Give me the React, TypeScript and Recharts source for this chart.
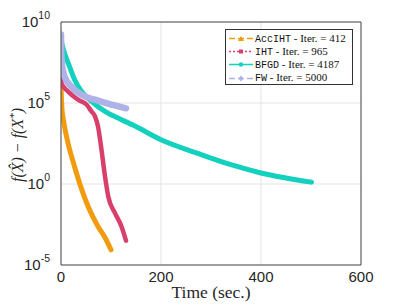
import React from "react";
import { LineChart, Line, XAxis, YAxis, CartesianGrid, ReferenceLine } from "recharts";

// time (sec.) and f(X^) - f(X*)
const accTime = [0, 0.5, 2, 4, 7, 14, 27, 41, 54, 74, 88, 100];
const accGap = [2.5e7, 4e5, 4e4, 1.3e4, 3.6e3, 340, 12, 0.5, 0.042, 2.4e-3, 5e-4, 8.7e-5];

const ihtTime = [0, 0.6, 14, 34, 51, 61, 68, 74, 81, 88, 94.5, 108, 121, 130];
const ihtGap = [1.8e7, 1.7e6, 5.2e5, 1.6e5, 8e4, 3e4, 1.5e4, 3.6e3, 130, 3, 0.17, 0.016, 2.4e-3, 3.2e-4];

const bfgdTime = [0, 7, 17, 27, 41, 61, 88, 121, 145, 200, 272, 340, 400, 501];
const bfgdGap = [7e8, 1.2e8, 1.8e7, 2.8e6, 5.2e5, 1.26e5, 3e4, 9.3e3, 4.2e3, 540, 81, 15.5, 4.8, 1.3];

const fwTime = [0, 0.5, 1.5, 7, 21, 41, 68, 94, 130];
const fwGap = [1.7e9, 1.3e8, 3e7, 4.4e6, 1e6, 3.2e5, 1.6e5, 9e4, 4.7e4];

const xTicks = [0, 200, 400, 600];
const yTicks = [1e-5, 1, 1e5, 1e10];

const toRows = (ts: number[], vs: number[]) => ts.map((t, i) => ({ t, y: vs[i] }));

const series = [
  { key: "acc", name: "AccIHT", iter: 412, color: "#F29B0F", width: 5, dash: "6 3", marker: "tri", rows: toRows(accTime, accGap) },
  { key: "iht", name: "IHT", iter: 965, color: "#D83F6B", width: 4.5, dash: "2 2", marker: "sq", rows: toRows(ihtTime, ihtGap) },
  { key: "bfgd", name: "BFGD", iter: 4187, color: "#14D0BE", width: 5, dash: "", marker: "circ", rows: toRows(bfgdTime, bfgdGap) },
  { key: "fw", name: "FW", iter: 5000, color: "#AEB2E6", width: 6.5, dash: "6 3", marker: "dia", rows: toRows(fwTime, fwGap) },
];

const tickFont = "'Liberation Sans', Arial, sans-serif";
const serif = "'Liberation Serif', 'DejaVu Serif', serif";

function XTick({ x, y, payload }: any) {
  return (
    <text x={x} y={y + 9} textAnchor="middle" fontSize={15} fontFamily={tickFont} fill="#262626">
      {payload.value}
    </text>
  );
}

function YTick({ x, y, payload }: any) {
  const exp = Math.round(Math.log10(payload.value));
  return (
    <text x={x - 3} y={y + 5} textAnchor="end" fontFamily={tickFont} fill="#262626">
      <tspan fontSize={15}>10</tspan>
      <tspan fontSize={10.5} dy={-8}>{exp}</tspan>
    </text>
  );
}

function Marker({ kind, color }: { kind: string; color: string }) {
  if (kind === "tri") return <polygon points="12,1 15,6 9,6" fill={color} />;
  if (kind === "sq") return <rect x={10} y={1.5} width={4} height={4} fill={color} />;
  if (kind === "circ") return <circle cx={12} cy={3.5} r={2.2} fill={color} />;
  return <polygon points="12,0.5 14.5,3.5 12,6.5 9.5,3.5" fill={color} />;
}

function LegendBox() {
  return (
    <div
      style={{
        position: "absolute",
        left: 225,
        top: 29,
        width: 128,
        height: 56,
        background: "#fff",
        border: "1px solid #333",
        boxSizing: "border-box",
        padding: "2px 0 0 3px",
      }}
    >
      {series.map((s) => (
        <div key={s.key} style={{ display: "flex", alignItems: "center", height: 13.2, whiteSpace: "nowrap" }}>
          <svg width={25} height={7} style={{ marginRight: 1 }}>
            <line x1={0} y1={3.5} x2={24} y2={3.5} stroke={s.color} strokeWidth={1.5} strokeDasharray={s.dash || undefined} />
            <Marker kind={s.marker} color={s.color} />
          </svg>
          <span style={{ fontSize: 11, lineHeight: "11px", color: "#111" }}>
            <span style={{ fontFamily: "'Liberation Mono', monospace", fontSize: 10 }}>{s.name}</span>
            <span style={{ fontFamily: serif }}> - Iter. = {s.iter}</span>
          </span>
        </div>
      ))}
    </div>
  );
}

export default function App() {
  return (
    <div style={{ position: "absolute", left: 0, top: 0, width: 399, height: 305, background: "#fff" }}>
      <LineChart width={399} height={305} margin={{ top: 22, right: 38, left: 0, bottom: 0 }}>
        <CartesianGrid stroke="#e3e3e3" strokeWidth={1} />
        <XAxis
          dataKey="t"
          type="number"
          domain={[0, 600]}
          ticks={xTicks}
          height={40}
          tick={<XTick />}
          tickLine={false}
          axisLine={{ stroke: "#4d4d4d" }}
          allowDataOverflow
        />
        <YAxis
          type="number"
          scale="log"
          domain={[1e-5, 1e10]}
          ticks={yTicks}
          width={61}
          tick={<YTick />}
          tickLine={false}
          axisLine={{ stroke: "#4d4d4d" }}
          allowDataOverflow
        />
        <ReferenceLine x={600} stroke="#4d4d4d" />
        <ReferenceLine y={1e10} stroke="#4d4d4d" />
        {series.map((s) => (
          <Line
            key={s.key}
            data={s.rows}
            dataKey="y"
            type="monotone"
            stroke={s.color}
            strokeWidth={s.width}
            strokeLinecap="round"
            strokeLinejoin="round"
            dot={false}
            activeDot={false}
            isAnimationActive={false}
          />
        ))}
        <text x={211} y={298} textAnchor="middle" fontSize={17.5} fontFamily={serif} fill="#262626">
          Time (sec.)
        </text>
        <text
          x={0}
          y={0}
          transform="translate(23,145) rotate(-90)"
          textAnchor="middle"
          fontSize={16}
          fontStyle="italic"
          fontFamily={serif}
          fill="#262626"
        >
          f(X̂) − f(X<tspan fontSize={11} dy={-6}>*</tspan><tspan dy={6}>)</tspan>
        </text>
      </LineChart>
      <LegendBox />
    </div>
  );
}
